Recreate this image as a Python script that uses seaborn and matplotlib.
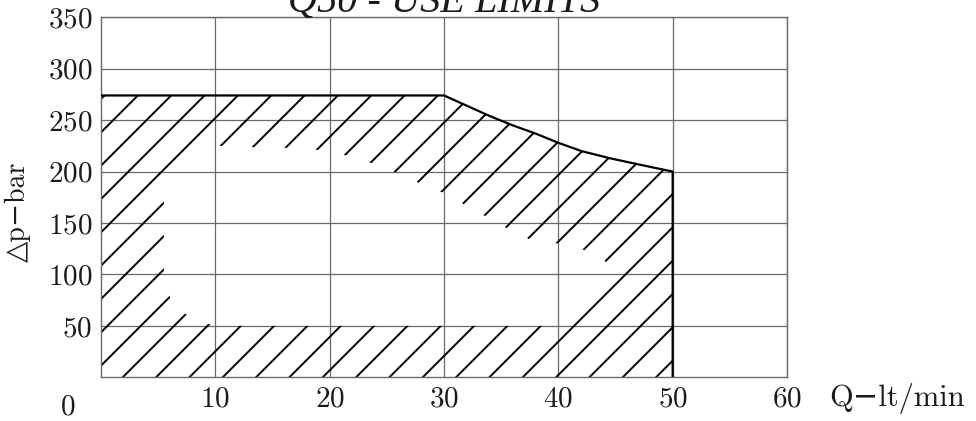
import numpy as np
import matplotlib
matplotlib.use("Agg")
import matplotlib.pyplot as plt
import seaborn as sns
from matplotlib.path import Path
from matplotlib.patches import PathPatch

# Granica pracy (gorna krzywa + pionowa linia przy 50 lt/min)
q_limit = [0, 30, 32, 34, 36, 38, 40, 42, 44.5, 47, 50, 50]
p_limit = [274, 274, 264, 254, 245, 237, 228, 220, 213, 207, 200, 0]

# Obszar wewnatrz bez kreskowania
q_clear = [5.5, 9, 12, 17, 20, 22, 24, 26, 28, 30, 35.5, 37.5, 40, 42, 44, 45, 41, 10, 8, 6.3, 5.5]
p_clear = [188, 226, 224, 223, 220, 214, 207, 198, 188, 179, 145, 134, 130, 125, 115, 93, 50, 50, 57, 70, 93]

x_ticks = [10, 20, 30, 40, 50, 60]
y_ticks = [50, 100, 150, 200, 250, 300, 350]
origin_label = "0"

TITLE = "Q50 - USE LIMITS"
X_LABEL = "Q\u2212lt/min"
Y_LABEL = "\u25b3p\u2212bar"

sns.set_style("white")
plt.rcParams["font.family"] = ["cmr10", "DejaVu Sans"]
plt.rcParams["axes.formatter.use_mathtext"] = True
plt.rcParams["hatch.linewidth"] = 0.7

fig = plt.figure(figsize=(4.88, 2.105), dpi=200)
ax = fig.add_axes([101 / 976, 1 - 377.3 / 421, 686 / 976, 360 / 421])

# kreskowany obszar: obrys zewnetrzny minus dziura
outer = list(zip(q_limit, p_limit)) + [(0, 0), (0, 274)]
inner = list(zip(q_clear, p_clear))[::-1] + [(q_clear[-1], p_clear[-1])]
verts = outer + inner
codes = ([Path.MOVETO] + [Path.LINETO] * (len(outer) - 2) + [Path.CLOSEPOLY]
         + [Path.MOVETO] + [Path.LINETO] * (len(inner) - 2) + [Path.CLOSEPOLY])
patch = PathPatch(Path(verts, codes), facecolor="none", edgecolor="black",
                  linewidth=0, hatch="//", zorder=1)
ax.add_patch(patch)

sns.lineplot(x=q_limit, y=p_limit, ax=ax, color="black", linewidth=0.8,
             sort=False, estimator=None, zorder=3)

ax.set_xlim(0, 60)
ax.set_ylim(0, 350)
ax.set_xticks(x_ticks)
ax.set_yticks(y_ticks)
ax.grid(True, color="#6a6a6a", linewidth=0.45)
ax.set_axisbelow(True)
for s in ax.spines.values():
    s.set_color("#6a6a6a")
    s.set_linewidth(0.5)
ax.tick_params(length=0, labelsize=10.5, colors="#1a1a1a", pad=3.2)

ax.text(-2.9, -29, origin_label, fontsize=10.5, ha="center", va="center",
        color="#1a1a1a", clip_on=False)

ax.set_xlabel(X_LABEL, fontsize=11, color="#1a1a1a", va="center")
ax.xaxis.set_label_coords(1.161, -0.06)
ax.set_ylabel(Y_LABEL, fontsize=10, color="#1a1a1a", va="center")
ax.yaxis.set_label_coords(-0.121, 0.459)

ax.text(0.5, 1.0 + 5 / 360, TITLE, transform=ax.transAxes, ha="center",
        va="baseline", fontsize=14.5, style="italic", family="Liberation Serif",
        color="#1a1a1a")

fig.savefig("out.png", dpi=200)
